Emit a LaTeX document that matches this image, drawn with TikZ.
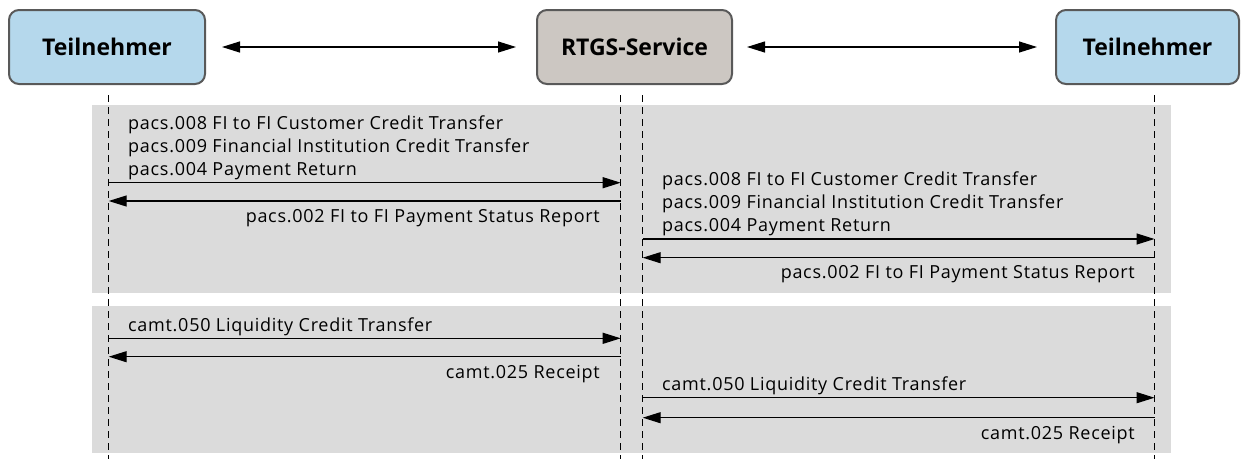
\documentclass[tikz,border=0pt]{standalone}
\usepackage{fontspec}
\setmainfont{Open Sans}
\newfontfamily\msgfont{Open Sans}[LetterSpace=4]
\usetikzlibrary{arrows.meta}
\definecolor{partfill}{HTML}{B5D8EC}
\definecolor{svcfill}{HTML}{CCC7C2}
\definecolor{boxline}{HTML}{595959}
\definecolor{bandgray}{HTML}{DBDBDB}
\begin{document}
\begin{tikzpicture}[x=1pt,y=-1pt,
  actor/.style={draw=boxline, line width=2pt, rounded corners=10pt,
    minimum height=74pt, inner sep=0pt, font=\fontsize{23}{26}\selectfont\bfseries},
  life/.style={line width=1.1pt, dash pattern=on 7pt off 5pt},
  msg/.style={line width=1.2pt, -{Triangle[length=18pt,width=11pt]}},
  link/.style={line width=1.2pt, {Triangle[length=18pt,width=11pt]}-{Triangle[length=18pt,width=11pt]}},
  lbl/.style={inner sep=0pt, font=\msgfont\fontsize{18}{21}\selectfont},
  band/.style={fill=bandgray}]
\useasboundingbox (0,0) rectangle (1249,459);

% shaded groups
\fill[band] (92,105) rectangle (1171,292.5);
\fill[band] (92,306) rectangle (1171,453.3);

% participants
\node[actor, fill=partfill, minimum width=196pt] (p1) at (107,47) {Teilnehmer};
\node[actor, fill=svcfill, minimum width=195pt] (svc) at (634.5,47) {RTGS-Service};
\node[actor, fill=partfill, minimum width=183pt] (p2) at (1147.5,47) {Teilnehmer};

\draw[link, shorten <=16pt, shorten >=20pt] (p1.east) -- (svc.west);
\draw[link, shorten <=14pt, shorten >=18pt] (svc.east) -- (p2.west);

% lifelines
\coordinate (la) at (108.7,95);
\coordinate (lb) at (620.7,95);
\coordinate (lc) at (642.7,95);
\coordinate (ld) at (1154.5,95);
\coordinate (bottom) at (0,459);
\foreach \l in {la,lb,lc,ld} \draw[life] (\l) -- (\l |- bottom);

% message levels
\coordinate (m1) at (0,182.7);
\coordinate (m2) at (0,201);
\coordinate (m3) at (0,239);
\coordinate (m4) at (0,257.7);
\coordinate (m5) at (0,338.3);
\coordinate (m6) at (0,356.7);
\coordinate (m7) at (0,397.7);
\coordinate (m8) at (0,417.7);

% payments: participant -> service
\draw[msg] (la |- m1) -- (lb |- m1);
\draw[msg] (lb |- m2) -- (la |- m2);
\node[lbl, anchor=base west] (t1) at (128,129.3) {pacs.008 FI to FI Customer Credit Transfer};
\node[lbl, anchor=base west] (t2) at (128,152.3) {pacs.009 Financial Institution Credit Transfer};
\node[lbl, anchor=base west] (t3) at (128,175.3) {pacs.004 Payment Return};
\node[lbl, anchor=base east] (t4) at (600,222.7) {pacs.002 FI to FI Payment Status Report};

% payments: service -> participant
\draw[msg] (lc |- m3) -- (ld |- m3);
\draw[msg] (ld |- m4) -- (lc |- m4);
\node[lbl, anchor=base west] (u1) at (662,185.3) {pacs.008 FI to FI Customer Credit Transfer};
\node[lbl, anchor=base west] (u2) at (662,208.3) {pacs.009 Financial Institution Credit Transfer};
\node[lbl, anchor=base west] (u3) at (662,231.3) {pacs.004 Payment Return};
\node[lbl, anchor=base east] (u4) at (1135,278.5) {pacs.002 FI to FI Payment Status Report};

% liquidity transfers: participant -> service
\draw[msg] (la |- m5) -- (lb |- m5);
\draw[msg] (lb |- m6) -- (la |- m6);
\node[lbl, anchor=base west] (v1) at (128,331.7) {camt.050 Liquidity Credit Transfer};
\node[lbl, anchor=base east] (v2) at (600,378.5) {camt.025 Receipt};

% liquidity transfers: service -> participant
\draw[msg] (lc |- m7) -- (ld |- m7);
\draw[msg] (ld |- m8) -- (lc |- m8);
\node[lbl, anchor=base west] (w1) at (662,390.7) {camt.050 Liquidity Credit Transfer};
\node[lbl, anchor=base east] (w2) at (1135,439.5) {camt.025 Receipt};
\end{tikzpicture}
\end{document}
